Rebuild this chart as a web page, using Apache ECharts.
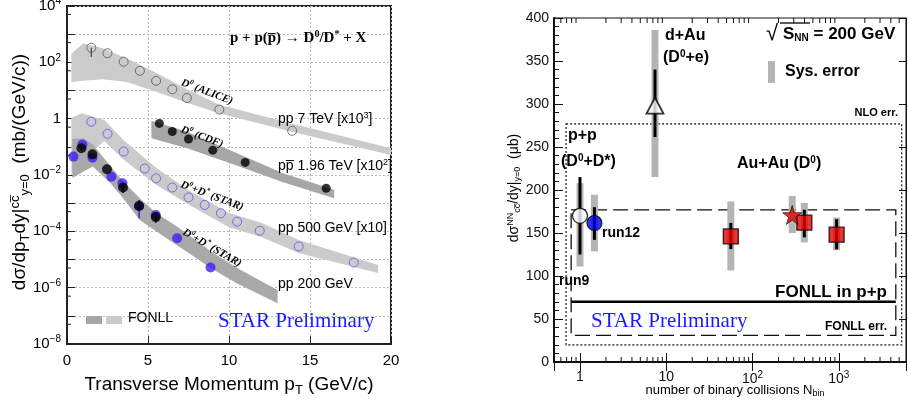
<!DOCTYPE html>
<html><head><meta charset="utf-8">
<script src="https://cdn.jsdelivr.net/npm/echarts@6/dist/echarts.min.js"></script>
<style>html,body{margin:0;padding:0;background:#fff}#c{width:909px;height:405px}</style>
</head><body><div id="c"></div>
<script>
// ================= LEFT PANEL DATA =================
const alicePt = [1.5, 2.5, 3.5, 4.5, 5.5, 6.5, 7.4, 9.4, 13.9];
const aliceY  = [330, 210, 105, 50, 22, 11, 5.4, 2.1, 0.37];
const aliceErr = [[1.5, 155, 330]];
const cdfPt = [5.7, 6.5, 7.5, 9.0, 11.0, 16.0];
const cdfY  = [0.68, 0.35, 0.19, 0.076, 0.028, 0.0034];
const s500Pt = [1.5, 2.5, 3.5, 4.8, 5.5, 6.5, 7.5, 8.5, 9.5, 10.5, 11.9, 14.3, 17.7];
const s500Y  = [0.78, 0.29, 0.068, 0.017, 0.0076, 0.0036, 0.0016, 8.7e-4, 4.4e-4, 2.2e-4, 1.05e-4, 2.9e-5, 7.8e-6];
const s200BluePt = [0.4, 0.95, 1.57, 2.74, 3.42, 4.45, 5.48, 6.8, 8.86];
const s200BlueY  = [0.045, 0.12, 0.041, 0.0087, 0.0051, 7.9e-4, 3.8e-4, 5.7e-5, 5.2e-6];
const s200BlueErr = [[4.45, 2.9e-4, 7.9e-4]];
const s200BlackPt = [0.89, 1.57, 2.47, 3.46, 4.45, 5.48];
const s200BlackY  = [0.089, 0.054, 0.016, 0.0036, 7.9e-4, 3.2e-4];
const s200BlackErr = [[0.89, 0.075, 0.11], [3.46, 0.0023, 0.0045], [4.45, 5.5e-4, 1.3e-3], [5.48, 2.0e-4, 4.0e-4]];

// FONLL bands (pT, upper, lower)
const aliceBandX  = [0.27, 1.0, 2.2, 3.7, 5.5, 7.4, 9.4, 13.8, 20];
const aliceBandHi = [200, 480, 316, 138, 43, 11, 3.1, 0.69, 0.089];
const aliceBandLo = [20, 22, 25, 20, 9.1, 3.7, 1.55, 0.35, 0.051];
const cdfBandX  = [5.21, 7.37, 10.25, 13.34, 16.49];
const cdfBandHi = [0.85, 0.35, 0.068, 0.0115, 0.003];
const cdfBandLo = [0.2, 0.09, 0.024, 0.0055, 0.0015];
const s500BandX  = [0.27, 0.9, 2.3, 3.5, 5.5, 7.5, 10, 12, 14.3, 19.2];
const s500BandHi = [1.06, 1.55, 0.89, 0.17, 0.018, 0.0029, 4.5e-4, 2.0e-4, 4.9e-5, 6.4e-6];
const s500BandLo = [0.01, 0.032, 0.16, 0.035, 4.5e-3, 8.9e-4, 1.4e-4, 6.3e-5, 1.7e-5, 3.3e-6];
const s200BandX  = [0.33, 1.0, 1.6, 2.7, 3.5, 4.49, 5.5, 6.76, 7.58, 8.86, 10.5, 13.0];
const s200BandHi = [0.19, 0.20, 0.12, 0.02, 5.6e-3, 1.5e-3, 4.5e-4, 1.5e-4, 7e-5, 2e-5, 5e-6, 8.3e-7];
const s200BandLo = [7.8e-3, 1.3e-2, 2e-2, 5e-3, 1.4e-3, 2.5e-4, 1e-4, 3.3e-5, 1.6e-5, 5e-6, 1.4e-6, 2.8e-7];

// ================= RIGHT PANEL DATA =================
const ptNames = ['run9', 'run12', 'd+Au', 'AuAu a', 'AuAu star', 'AuAu b', 'AuAu c'];
const nbin    = [1, 1.47, 7.4, 56, 288, 398, 942];
const xsec    = [170, 161.6, 298, 146, 171, 162, 148];
const statLo  = [125, 142, 261.6, 131.4, null, 145, 131];
const statHi  = [215, 180, 340, 161.6, null, 177, 166];
const sysLo   = [111, 128.6, 215, 106.5, 150, 139, 130];
const sysHi   = [208, 194.5, 386, 186.7, 193, 185, 168];
const fonllPP = 70;
const fonllErr = [31, 177];
const fonllRange = [0.79, 4570];
const nloErr = [20, 277];
const nloRange = [0.69, 5350];

// tick values
const leftYMinor = [5e-8, 5e-7, 5e-6, 5e-5, 5e-4, 5e-3, 5e-2, 0.5, 5, 50, 500, 5000];
const rightXMinor = [];
for (let e = -1; e <= 3; e++) for (let k = 2; k <= 9; k++) { const v = k * Math.pow(10, e); if (v > 0.5 && v < 6000) rightXMinor.push(v); }

// ================= HELPERS =================
const SANS = 'Liberation Sans, Arial, sans-serif';
const SERIF = 'Liberation Serif, Times New Roman, serif';
const sup = (fs) => ({ fontSize: fs, padding: [0, 0, Math.round(fs * 0.8), 0] });
const sub = (fs) => ({ fontSize: fs, padding: [Math.round(fs * 0.8), 0, 0, 0] });

function band(xs, hi, lo, color, z) {
  return {
    type: 'custom', xAxisIndex: 0, yAxisIndex: 0, z: z, silent: true, clip: true,
    data: [[1, 1]],
    renderItem: (p, api) => {
      const pts = [];
      for (let i = 0; i < xs.length; i++) pts.push(api.coord([xs[i], hi[i]]));
      for (let i = xs.length - 1; i >= 0; i--) pts.push(api.coord([xs[i], lo[i]]));
      return { type: 'polygon', shape: { points: pts }, style: { fill: color } };
    }
  };
}
function errBars(xi, yi, rows, color, width, z) {
  return {
    type: 'custom', xAxisIndex: xi, yAxisIndex: yi, z: z, silent: true,
    data: rows,
    renderItem: (p, api) => {
      const a = api.coord([api.value(0), api.value(1)]);
      const b = api.coord([api.value(0), api.value(2)]);
      return { type: 'line', shape: { x1: a[0], y1: a[1], x2: b[0], y2: b[1] }, style: { stroke: color, lineWidth: width } };
    }
  };
}
function sysBoxes(rows) {
  return {
    type: 'custom', xAxisIndex: 1, yAxisIndex: 1, z: 3, silent: true,
    data: rows,
    renderItem: (p, api) => {
      const a = api.coord([api.value(0), api.value(1)]);
      const b = api.coord([api.value(0), api.value(2)]);
      return { type: 'rect', shape: { x: a[0] - 3.5, y: b[1], width: 7, height: a[1] - b[1] }, style: { fill: '#b4b4b4' } };
    }
  };
}
function zip(xs, ys) { return xs.map((x, i) => [x, ys[i]]); }
function rows3(xs, lo, hi) { const r = []; xs.forEach((x, i) => { if (lo[i] != null) r.push([x, lo[i], hi[i]]); }); return r; }

function leftYLabel(v) {
  const l = Math.log10(v), e = Math.round(l);
  if (Math.abs(l - e) > 1e-6 || e % 2 !== 0) return '';
  if (e === 0) return '1';
  return '10{s|' + (e < 0 ? '\u2212' + (-e) : e) + '}';
}
function rightXLabel(v) {
  const l = Math.log10(v), e = Math.round(l);
  if (Math.abs(l - e) > 1e-6) return '';
  if (e === 0) return '1';
  if (e === 1) return '10';
  return '10{s|' + e + '}';
}

const chart = echarts.init(document.getElementById('c'), null, { renderer: 'canvas' });

const option = {
  animation: false,
  backgroundColor: '#fff',
  grid: [
    { left: 67, top: 6, width: 324, height: 338, show: true, borderColor: '#222', borderWidth: 2, backgroundColor: 'transparent', outerBoundsMode: 'none', containLabel: false },
    { left: 554, top: 18, width: 352, height: 344, show: true, borderColor: '#111', borderWidth: 1, backgroundColor: 'transparent', outerBoundsMode: 'none', containLabel: false }
  ],
  xAxis: [
    { gridIndex: 0, type: 'value', min: 0, max: 20, interval: 5,
      axisLine: { show: true, lineStyle: { color: '#222', width: 2 } },
      axisTick: { show: true, inside: true, length: 8, lineStyle: { color: '#222' } },
      axisLabel: { show: true, color: '#000', fontSize: 15, fontFamily: SANS, margin: 9 },
      splitLine: { show: true, lineStyle: { color: '#bbb', type: [2, 2], width: 1 } } },
    { gridIndex: 1, type: 'log', logBase: 10, min: 0.5, max: 6000,
      axisLine: { show: true, lineStyle: { color: '#111', width: 2 } },
      axisTick: { show: true, inside: true, length: 9, lineStyle: { color: '#111' } },
      axisLabel: { show: true, color: '#111', fontSize: 14, fontFamily: SANS, margin: 8, formatter: rightXLabel,
        rich: { s: { fontSize: 10, padding: [0, 0, 9, 0], fontFamily: SANS, color: '#111' } } },
      splitLine: { show: false } },
    { gridIndex: 1, type: 'log', logBase: 10, min: 0.5, max: 6000, position: 'top',
      axisLine: { show: true, lineStyle: { color: '#111', width: 1 } },
      axisTick: { show: true, inside: true, length: 9, lineStyle: { color: '#111' } },
      axisLabel: { show: false }, splitLine: { show: false } }
  ],
  yAxis: [
    { gridIndex: 0, type: 'log', logBase: 10, min: 1e-8, max: 1e4, interval: 1,
      axisLine: { show: true, lineStyle: { color: '#222', width: 2 } },
      axisTick: { show: true, inside: true, length: 8, lineStyle: { color: '#222' } },
      axisLabel: { show: true, color: '#000', fontSize: 15, fontFamily: SANS, margin: 6, formatter: leftYLabel,
        rich: { s: { fontSize: 10, padding: [0, 0, 9, 0], fontFamily: SANS, color: '#000' } } },
      splitLine: { show: true, lineStyle: { color: '#bbb', type: [2, 2], width: 1 } } },
    { gridIndex: 1, type: 'value', min: 0, max: 400, interval: 50,
      axisLine: { show: true, lineStyle: { color: '#111', width: 2 } },
      axisTick: { show: true, inside: true, length: 9, lineStyle: { color: '#111' } },
      minorTick: { show: true, splitNumber: 5, length: 5, lineStyle: { color: '#111' } },
      axisLabel: { show: true, color: '#111', fontSize: 14, fontFamily: SANS, margin: 5 },
      splitLine: { show: false } },
    { gridIndex: 1, type: 'value', min: 0, max: 400, interval: 50, position: 'right',
      axisLine: { show: true, lineStyle: { color: '#111', width: 1 } },
      axisTick: { show: true, inside: true, length: 7, lineStyle: { color: '#111' } },
      axisLabel: { show: false }, splitLine: { show: false } }
  ],
  series: [
    band(aliceBandX, aliceBandHi, aliceBandLo, '#cbcbcb', 1),
    band(cdfBandX, cdfBandHi, cdfBandLo, '#a6a6a6', 1),
    band(s500BandX, s500BandHi, s500BandLo, '#cbcbcb', 1),
    band(s200BandX, s200BandHi, s200BandLo, '#a9a9a9', 2),
    // left y minor ticks
    { type: 'custom', xAxisIndex: 0, yAxisIndex: 0, z: 5, silent: true,
      data: leftYMinor.map(v => [0, v]),
      renderItem: (p, api) => { const a = api.coord([0, api.value(1)]); return { type: 'line', shape: { x1: a[0], y1: a[1], x2: a[0] + 4, y2: a[1] }, style: { stroke: '#222', lineWidth: 1 } }; } },
    errBars(0, 0, aliceErr, '#444', 1.2, 6),
    errBars(0, 0, s200BlueErr, '#3a1ff5', 1.5, 6),
    errBars(0, 0, s200BlackErr, '#000', 1.5, 7),
    { type: 'scatter', xAxisIndex: 0, yAxisIndex: 0, z: 8, symbol: 'circle', symbolSize: 9, data: zip(alicePt, aliceY),
      itemStyle: { color: 'rgba(0,0,0,0)', borderColor: '#555', borderWidth: 1 } },
    { type: 'scatter', xAxisIndex: 0, yAxisIndex: 0, z: 8, symbol: 'circle', symbolSize: 9, data: zip(cdfPt, cdfY),
      itemStyle: { color: '#000' } },
    { type: 'scatter', xAxisIndex: 0, yAxisIndex: 0, z: 8, symbol: 'circle', symbolSize: 9, data: zip(s500Pt, s500Y),
      itemStyle: { color: 'rgba(0,0,0,0)', borderColor: '#6b4cf0', borderWidth: 1 } },
    { type: 'scatter', xAxisIndex: 0, yAxisIndex: 0, z: 8, symbol: 'circle', symbolSize: 10, data: zip(s200BluePt, s200BlueY),
      itemStyle: { color: '#3a1ff5' } },
    { type: 'scatter', xAxisIndex: 0, yAxisIndex: 0, z: 9, symbol: 'circle', symbolSize: 10, data: zip(s200BlackPt, s200BlackY),
      itemStyle: { color: '#000' } },
    // right x minor ticks (bottom & top)
    { type: 'custom', xAxisIndex: 1, yAxisIndex: 1, z: 5, silent: true,
      data: rightXMinor.map(v => [v, 1]),
      renderItem: (p, api) => {
        const a = api.coord([api.value(0), 0]), b = api.coord([api.value(0), 400]);
        return { type: 'group', children: [
          { type: 'line', shape: { x1: a[0], y1: a[1], x2: a[0], y2: a[1] - 5 }, style: { stroke: '#111', lineWidth: 1 } },
          { type: 'line', shape: { x1: b[0], y1: b[1], x2: b[0], y2: b[1] + 5 }, style: { stroke: '#111', lineWidth: 1 } } ] };
      } },
    // FONLL / NLO boxes
    { type: 'custom', xAxisIndex: 1, yAxisIndex: 1, z: 2, silent: true, data: [[1, 1]],
      renderItem: (p, api) => {
        const n1 = api.coord([nloRange[0], nloErr[1]]), n2 = api.coord([nloRange[1], nloErr[0]]);
        const f1 = api.coord([fonllRange[0], fonllErr[1]]), f2 = api.coord([fonllRange[1], fonllErr[0]]);
        const c1 = api.coord([fonllRange[0], fonllPP]), c2 = api.coord([fonllRange[1], fonllPP]);
        return { type: 'group', children: [
          { type: 'rect', shape: { x: n1[0], y: n1[1], width: n2[0] - n1[0], height: n2[1] - n1[1] }, style: { fill: 'none', stroke: '#111', lineWidth: 1.2, lineDash: [2, 2] } },
          { type: 'rect', shape: { x: f1[0], y: f1[1], width: f2[0] - f1[0], height: f2[1] - f1[1] }, style: { fill: 'none', stroke: '#111', lineWidth: 1.3, lineDash: [15, 6] } },
          { type: 'line', shape: { x1: c1[0], y1: c1[1], x2: c2[0], y2: c2[1] }, style: { stroke: '#000', lineWidth: 2.5 } } ] };
      } },
    sysBoxes(rows3(nbin, sysLo, sysHi)),
    errBars(1, 1, rows3(nbin, statLo, statHi), '#000', 3, 4),
    { type: 'scatter', xAxisIndex: 1, yAxisIndex: 1, z: 10, symbol: 'circle', symbolSize: 15, data: [[nbin[0], xsec[0]]],
      itemStyle: { color: '#fff', borderColor: '#000', borderWidth: 1.3 } },
    { type: 'scatter', xAxisIndex: 1, yAxisIndex: 1, z: 10, symbol: 'circle', symbolSize: 15, data: [[nbin[1], xsec[1]]],
      itemStyle: { color: '#0000e6', borderColor: '#000', borderWidth: 1.2 } },
    { type: 'scatter', xAxisIndex: 1, yAxisIndex: 1, z: 10, symbol: 'triangle', symbolSize: [17, 16], data: [[nbin[2], xsec[2]]],
      itemStyle: { color: '#fff', borderColor: '#000', borderWidth: 1.8 } },
    { type: 'scatter', xAxisIndex: 1, yAxisIndex: 1, z: 10, symbol: 'rect', symbolSize: 15, data: [[nbin[3], xsec[3]], [nbin[5], xsec[5]], [nbin[6], xsec[6]]],
      itemStyle: { color: '#e60000', borderColor: '#000', borderWidth: 1.3 } },
    { type: 'scatter', xAxisIndex: 1, yAxisIndex: 1, z: 11, symbol: 'path://M50,0 L61,35 L98,35 L68,57 L79,91 L50,70 L21,91 L32,57 L2,35 L39,35 Z', symbolSize: 19, data: [[nbin[4], xsec[4]]],
      itemStyle: { color: '#e60000', borderColor: '#000', borderWidth: 0.8 } }
  ],
  graphic: []
};

const g = option.graphic;
function txt(x, y, text, o) {
  g.push(Object.assign({ type: 'text', x: x, y: y, silent: true, z: 100,
    style: Object.assign({ text: text, fill: '#000', font: o.font, textAlign: o.align || 'left', textVerticalAlign: 'middle', rich: o.rich || {} }, o.style || {}) }, o.el || {}));
}
// ---- left panel texts ----
txt(20, 172, 'd\u03c3/dp{b|T}dy|{a|cc\u0305}{b|y=0}  (mb/(GeV/c))', { font: '19px ' + SANS, align: 'center', el: { rotation: Math.PI / 2 },
  rich: { a: Object.assign(sup(13), { fontFamily: SANS }), b: Object.assign(sub(13), { fontFamily: SANS }) } });
txt(229, 385, 'Transverse Momentum p{b|T} (GeV/c)', { font: '19px ' + SANS, align: 'center', rich: { b: Object.assign(sub(13), { fontFamily: SANS }) } });
txt(230, 38, 'p + p(p\u0305) \u2192 D{a|0}/D{a|*} + X', { font: 'bold 15px ' + SERIF, rich: { a: Object.assign(sup(10), { fontFamily: SERIF, fontWeight: 'bold' }) } });
const ital = { i: { fontFamily: SERIF, fontStyle: 'italic', fontWeight: 'bold', fontSize: 11 }, s: { fontFamily: SERIF, fontStyle: 'italic', fontWeight: 'bold', fontSize: 7, padding: [0, 0, 7, 0] } };
txt(207, 92, '{i|D}{s|0}{i| (ALICE)}', { font: 'italic bold 11px ' + SERIF, align: 'center', el: { rotation: -0.36 }, rich: ital });
txt(202, 137, '{i|D}{s|0}{i| (CDF)}', { font: 'italic bold 11px ' + SERIF, align: 'center', el: { rotation: -0.36 }, rich: ital });
txt(212, 196, '{i|D}{s|0}{i|+D}{s|*}{i| (STAR)}', { font: 'italic bold 11px ' + SERIF, align: 'center', el: { rotation: -0.36 }, rich: ital });
txt(212, 248, '{i|D}{s|0}{i|+D}{s|*}{i| (STAR)}', { font: 'italic bold 11px ' + SERIF, align: 'center', el: { rotation: -0.52 }, rich: ital });
const supS = { s: Object.assign(sup(9), { fontFamily: SANS }) };
txt(278, 119, 'pp 7 TeV [x10{s|3}]', { font: '14px ' + SANS, rich: supS });
txt(278, 166, 'pp\u0305 1.96 TeV [x10{s|2}]', { font: '14px ' + SANS, rich: supS });
txt(278, 228, 'pp 500 GeV [x10]', { font: '14px ' + SANS });
txt(278, 284, 'pp 200 GeV', { font: '14px ' + SANS });
g.push({ type: 'rect', shape: { x: 86, y: 316, width: 16, height: 8 }, style: { fill: '#a6a6a6' }, silent: true, z: 100 });
g.push({ type: 'rect', shape: { x: 106, y: 316, width: 16, height: 8 }, style: { fill: '#cbcbcb' }, silent: true, z: 100 });
txt(128, 318, 'FONLL', { font: '14px ' + SANS });
txt(218, 321, 'STAR Preliminary', { font: '21px ' + SERIF, style: { fill: '#1a1aff' } });
// ---- right panel texts ----
txt(514, 188, 'd\u03c3{a|NN}{b|cc\u0305}/dy|{b|y=0}  (\u03bcb)', { font: '14px ' + SANS, align: 'center', el: { rotation: Math.PI / 2 },
  rich: { a: Object.assign(sup(9), { fontFamily: SANS }), b: Object.assign(sub(9), { fontFamily: SANS }) } });
txt(735, 390, 'number of binary collisions N{b|bin}', { font: '13px ' + SANS, align: 'center', rich: { b: Object.assign(sub(9), { fontFamily: SANS }) } });
const bsup = { s: Object.assign(sup(10), { fontFamily: SANS, fontWeight: 'bold' }) };
txt(665, 36, 'd+Au', { font: 'bold 16px ' + SANS });
txt(663, 58, '(D{s|0}+e)', { font: 'bold 16px ' + SANS, rich: bsup });
txt(568, 136, 'p+p', { font: 'bold 16px ' + SANS });
txt(561, 162, '(D{s|0}+D*)', { font: 'bold 16px ' + SANS, rich: bsup });
txt(737, 164, 'Au+Au (D{s|0})', { font: 'bold 16px ' + SANS, rich: bsup });
txt(766, 34, '\u221a', { font: '22px ' + SANS });
g.push({ type: 'line', shape: { x1: 780, y1: 23, x2: 810, y2: 23 }, style: { stroke: '#000', lineWidth: 1.3 }, silent: true, z: 100 });
txt(783, 34, 'S{b|NN} = 200 GeV', { font: 'bold 17px ' + SANS, rich: { b: Object.assign(sub(10), { fontFamily: SANS, fontWeight: 'bold' }) } });
g.push({ type: 'rect', shape: { x: 768, y: 61, width: 7, height: 22 }, style: { fill: '#b4b4b4' }, silent: true, z: 100 });
txt(785, 72, 'Sys. error', { font: 'bold 16px ' + SANS });
txt(898, 113, 'NLO err.', { font: 'bold 11px ' + SANS, align: 'right' });
txt(602, 233, 'run12', { font: 'bold 14px ' + SANS });
txt(559, 281, 'run9', { font: 'bold 14px ' + SANS });
txt(887, 292, 'FONLL in p+p', { font: 'bold 17px ' + SANS, align: 'right' });
txt(591, 321, 'STAR Preliminary', { font: '21px ' + SERIF, style: { fill: '#1a1aff' } });
txt(887, 327, 'FONLL err.', { font: 'bold 12px ' + SANS, align: 'right' });

chart.setOption(option);
</script>
</body></html>
